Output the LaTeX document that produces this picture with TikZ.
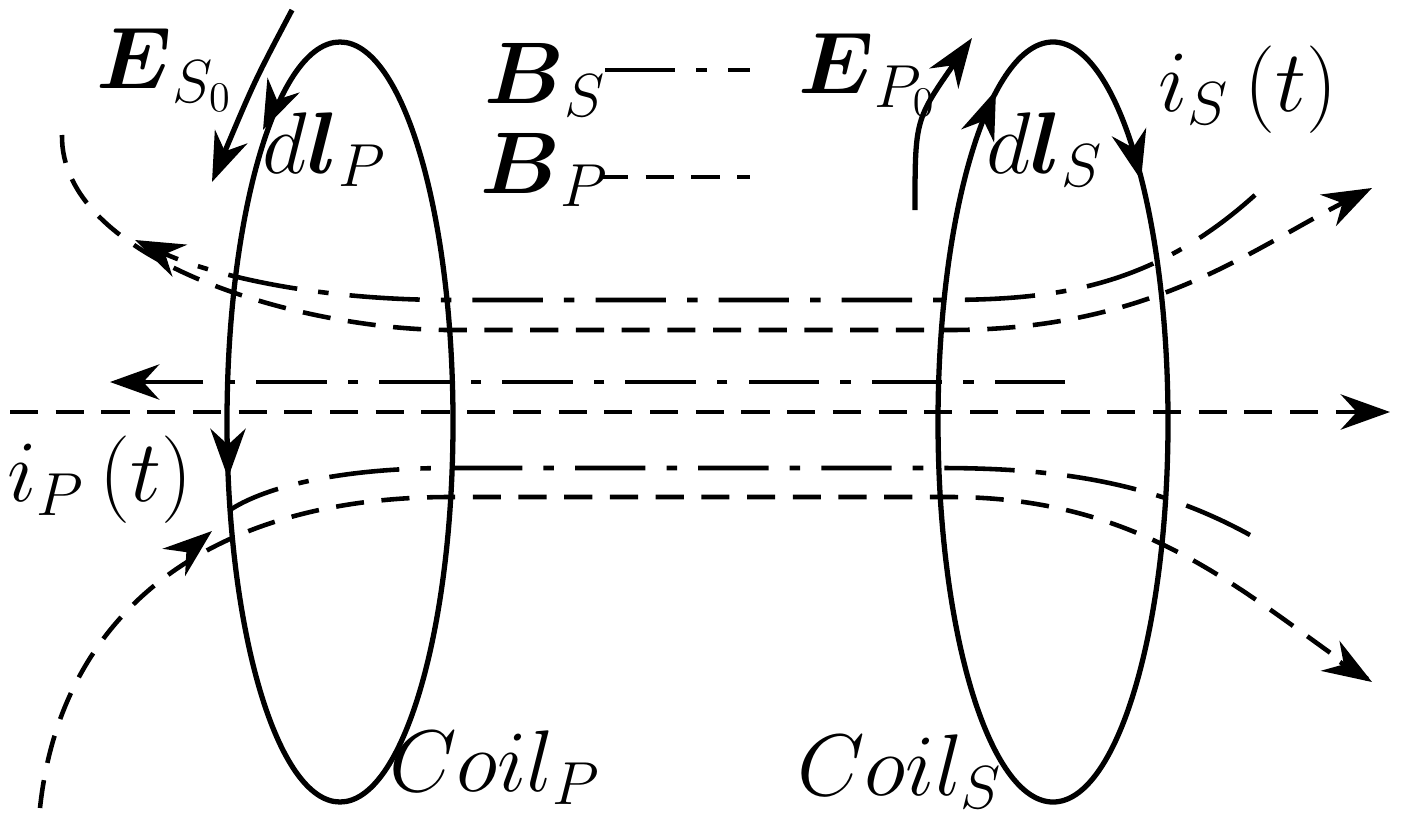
\documentclass[tikz,border=0pt]{standalone}
\usepackage{amsmath}
\usetikzlibrary{arrows.meta}
\begin{document}
\begin{tikzpicture}[x=0.01cm,y=-0.01cm,
  wire/.style={line width=1.5pt},
  bp/.style={line width=1.3pt,dash pattern=on 8pt off 5pt},
  bs/.style={line width=1.3pt,dash pattern=on 20pt off 6pt on 3pt off 6pt},
  tip/.style={-{Stealth[length=14pt,width=10pt]}},
  lab/.style={font=\fontsize{23}{27}\selectfont,inner sep=0pt}]
\useasboundingbox (0,0) rectangle (1404,824);
% coils
\draw[wire] (340,422) ellipse [x radius=113, y radius=380];
\draw[wire] (1053,422) ellipse [x radius=115, y radius=380];
% coil arrows
\draw[wire,tip] (274,106) -- (263,130);
\draw[wire,tip] (228,445) -- (228,478);
\draw[wire,tip] (986,115) -- (996,90);
\draw[wire,tip] (1133,148) -- (1141,180);
% E arrows
\draw[wire,tip] (292,10) .. controls (255,80) .. (212,182);
\draw[wire,tip] (915,210) .. controls (915,120) .. (972,38);
% B_P dashed
\draw[bp,tip] (10,412) -- (1390,412);
\draw[bp,tip] (62,135) .. controls (60,260) and (300,330) .. (450,330) -- (950,330) .. controls (1150,330) and (1250,250) .. (1372,188);
\draw[bp] (40,808) .. controls (60,620) and (200,497) .. (450,497) -- (950,497) .. controls (1150,497) and (1250,600) .. (1372,682);
\draw[bp,-{Stealth[length=14pt,width=10pt]}] (1340,662) -- (1372,682);
\draw[wire,tip] (195,545) -- (212,531);
% B_S dash-dot
\draw[bs,tip] (1255,195) .. controls (1150,290) and (1050,300) .. (940,300) -- (450,300) .. controls (300,300) and (200,270) .. (135,240);
\draw[bs,tip] (1065,382) -- (110,382);
\draw[bs] (1250,535) .. controls (1150,480) and (1050,468) .. (940,468) -- (450,468) .. controls (330,468) and (260,490) .. (230,510);
% legend
\draw[bs] (605,70) -- (750,70);
\draw[bp] (600,177) -- (750,177);
% labels
\node[lab] (es) at (165,70) {$\boldsymbol{E}_{S_0}$};
\node[lab] (dlp) at (325,150) {$d\boldsymbol{l}_P$};
\node[lab] (bsl) at (545,80) {$\boldsymbol{B}_S$};
\node[lab] (bpl) at (545,170) {$\boldsymbol{B}_P$};
\node[lab] (ep) at (868,75) {$\boldsymbol{E}_{P_0}$};
\node[lab] (dls) at (1045,150) {$d\boldsymbol{l}_S$};
\node[lab] (is) at (1248,90) {$i_S\left(t\right)$};
\node[lab] (ip) at (100,480) {$i_P\left(t\right)$};
\node[lab] (cp) at (495,768) {$Coil_P$};
\node[lab] (cs) at (900,772) {$Coil_S$};
\end{tikzpicture}
\end{document}
